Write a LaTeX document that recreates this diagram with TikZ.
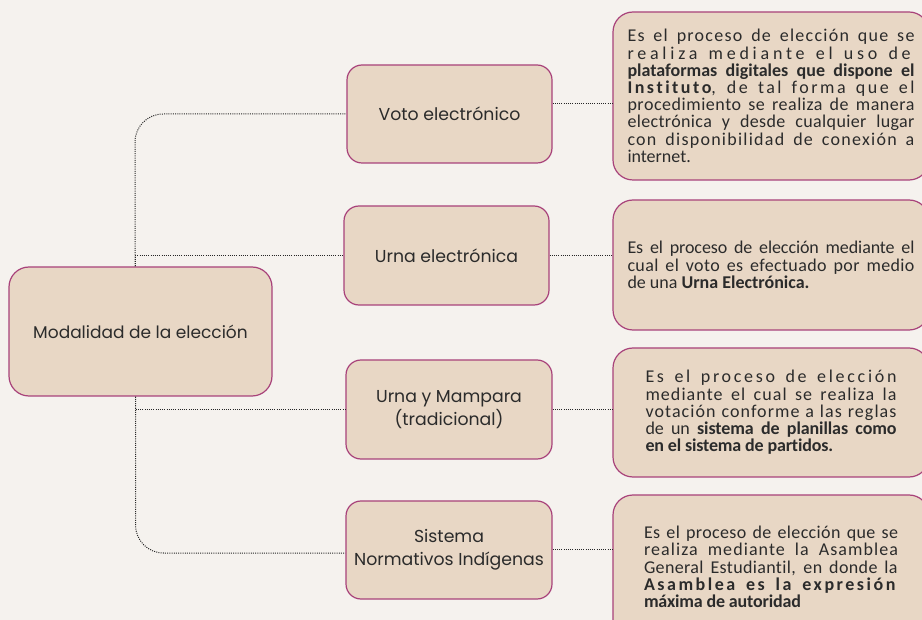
\documentclass[tikz,border=0pt]{standalone}
\usepackage{fontspec}
\setmainfont{Carlito}[Ligatures=CommonOff]
\newfontfamily\boxfont{Poppins}
\usetikzlibrary{calc}
\definecolor{bg}{HTML}{F5F2EE}
\definecolor{boxfill}{HTML}{E8D7C5}
\definecolor{boxline}{HTML}{A8427A}
\definecolor{txt}{HTML}{2B2B2B}
\newcommand\ls[2]{{\addfontfeature{LetterSpace=#1}#2}}
\tolerance=10000
\hyphenpenalty=10000
\exhyphenpenalty=10000
\tikzset{
  midbox/.style={draw=boxline, fill=boxfill, line width=1.2pt, rounded corners=15pt,
    minimum width=205pt, minimum height=98pt, inner sep=0pt, align=center,
    font=\boxfont\fontsize{17.3}{22.5}\selectfont, text=txt},
  rootbox/.style={midbox, rounded corners=20pt, minimum width=263pt, minimum height=129pt,
    font=\boxfont\fontsize{17}{22.5}\selectfont},
  descbox/.style={draw=boxline, fill=boxfill, line width=1.2pt, rounded corners=20pt,
    minimum width=316pt, inner sep=0pt, align=justify,
    font=\fontsize{18}{17.2}\selectfont, text=txt},
  conn/.style={draw=black!85, line width=1pt, dash pattern=on 1pt off 1.2pt}
}
\begin{document}
\begin{tikzpicture}[x=1pt,y=-1pt]
\path[fill=bg] (0,0) rectangle (922,620);
\useasboundingbox (0,0) rectangle (922,620);
\clip (0,0) rectangle (922,620);

\node[rootbox] (root) at (140.5,331.5) {Modalidad de la elección};
\node[midbox] (voto) at (449.5,114) {Voto electrónico};
\node[midbox, minimum height=99pt] (urnae) at (446.5,255.5) {Urna electrónica};
\node[midbox, minimum width=206pt, minimum height=99pt] (mampara) at (449,409.5) {Urna y Mampara\\(tradicional)};
\node[midbox, minimum width=206pt] (sistema) at (449,550) {Sistema\\Normativos Indígenas};

\node[descbox, text width=287pt, minimum height=168pt] (d1) at (771,96) {%
\ls{7}{Es el proceso de elección que se}\linebreak
\ls{21}{realiza mediante el uso de}\linebreak
\textbf{plataformas digitales que dispone el}\linebreak
\ls{14}{\textbf{Instituto}, de tal forma que el}\linebreak
\ls{3}{procedimiento se realiza de manera}\linebreak
\ls{2}{electrónica y desde cualquier lugar}\linebreak
\ls{7}{con disponibilidad de conexión a}\linebreak
internet.};
\node[descbox, text width=287pt, minimum height=130pt] (d2) at (771,265) {%
\ls{-0.5}{Es el proceso de elección mediante el}\linebreak
\ls{2}{cual el voto es efectuado por medio}\linebreak
de una \textbf{Urna Electrónica.}};
\node[descbox, text width=251pt, minimum height=129pt] (d3) at (771,412.5) {%
\ls{15}{Es el proceso de elección}\linebreak
\ls{6}{mediante el cual se realiza la}\linebreak
\ls{6}{votación conforme a las reglas}\linebreak
\ls{-0.5}{de un \textbf{sistema de planillas como}}\linebreak
\ls{-1}{\textbf{en el sistema de partidos.}}};
\node[descbox, text width=254pt, minimum height=144pt] (d4) at (771,567) {%
\ls{2}{Es el proceso de elección que se}\linebreak
\ls{6}{realiza mediante la Asamblea}\linebreak
\ls{2}{General Estudiantil, en donde la}\linebreak
\ls{14}{\textbf{Asamblea es la expresión}}\linebreak
\ls{-1}{\textbf{máxima de autoridad}}};

\draw[conn, rounded corners=28pt] ([xshift=-5.5pt]root.north) |- (voto.west);
\draw[conn] ([xshift=-5.5pt]root.north) |- (urnae.west);
\draw[conn] ([xshift=-5pt]root.south) |- (mampara.west);
\draw[conn, rounded corners=28pt] ([xshift=-5pt]root.south) |- ([yshift=-3pt]sistema.west);
\draw[conn] ([yshift=10pt]voto.east) -- ([yshift=10pt]voto.east -| d1.west);
\draw[conn] (urnae.east) -- (urnae.east -| d2.west);
\draw[conn] (mampara.east) -- (mampara.east -| d3.west);
\draw[conn] ([yshift=1pt]sistema.east) -- ([yshift=1pt]sistema.east -| d4.west);
\end{tikzpicture}
\end{document}
